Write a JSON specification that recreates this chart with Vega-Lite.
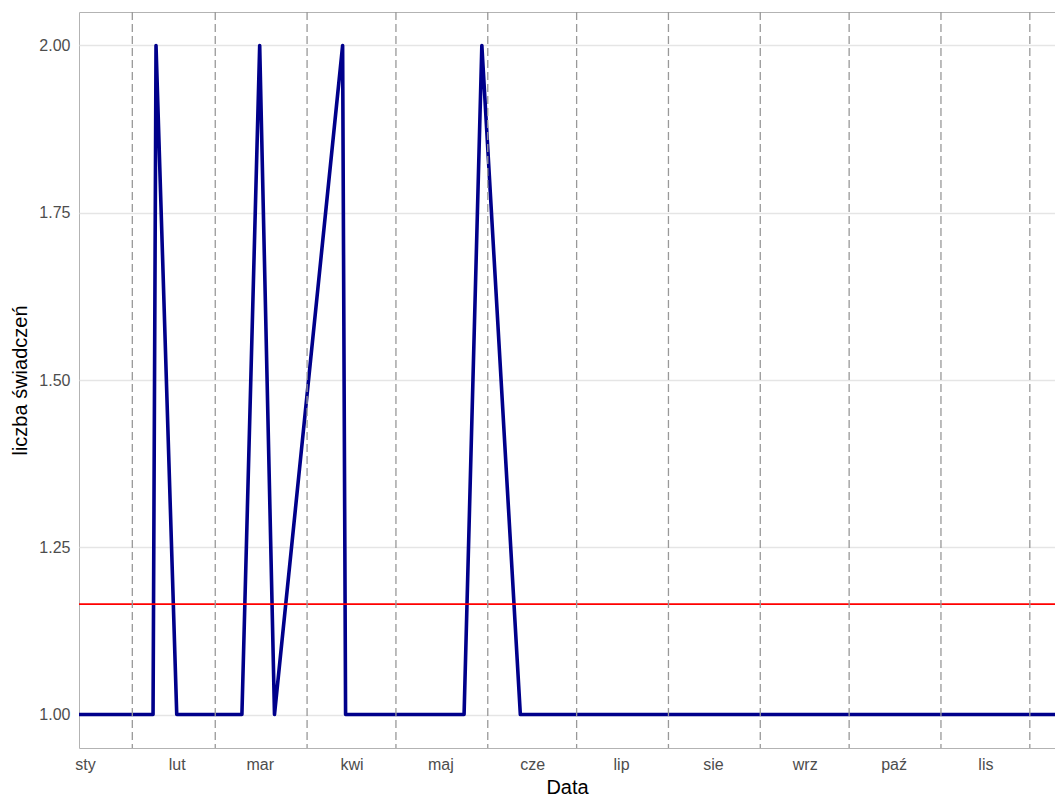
{
  "$schema": "https://vega.github.io/schema/vega-lite/v6.json",
  "width": 976,
  "height": 736,
  "autosize": {"type": "none"},
  "padding": {"left": 79, "top": 12, "right": 0, "bottom": 48},
  "background": "white",
  "config": {
    "view": {"stroke": "#B3B3B3", "strokeWidth": 1},
    "font": "Liberation Sans",
    "axis": {
      "labelFont": "Liberation Sans",
      "titleFont": "Liberation Sans",
      "labelColor": "#4D4D4D",
      "titleColor": "#000000",
      "labelFontSize": 16,
      "titleFontSize": 20,
      "titleFontWeight": "normal",
      "domain": false,
      "ticks": false
    }
  },
  "datasets": {
    "series": [
      {"data": "2023-01-14", "liczba": 1},
      {"data": "2023-02-08", "liczba": 1},
      {"data": "2023-02-09", "liczba": 2},
      {"data": "2023-02-16", "liczba": 1},
      {"data": "2023-03-10", "liczba": 1},
      {"data": "2023-03-16", "liczba": 2},
      {"data": "2023-03-21", "liczba": 1},
      {"data": "2023-04-13", "liczba": 2},
      {"data": "2023-04-14", "liczba": 1},
      {"data": "2023-05-24", "liczba": 1},
      {"data": "2023-05-30", "liczba": 2},
      {"data": "2023-06-12", "liczba": 1},
      {"data": "2023-12-10", "liczba": 1}
    ],
    "months": [
      {"data": "2023-02-01"},
      {"data": "2023-03-01"},
      {"data": "2023-04-01"},
      {"data": "2023-05-01"},
      {"data": "2023-06-01"},
      {"data": "2023-07-01"},
      {"data": "2023-08-01"},
      {"data": "2023-09-01"},
      {"data": "2023-10-01"},
      {"data": "2023-11-01"},
      {"data": "2023-12-01"}
    ],
    "mean": [{"srednia": 1.165}]
  },
  "layer": [
    {
      "data": {"name": "series"},
      "mark": {"type": "line", "color": "#00008B", "strokeWidth": 3.6, "strokeJoin": "round"},
      "encoding": {
        "x": {
          "field": "data",
          "type": "temporal",
          "scale": {
            "type": "utc",
            "domain": [
              {"year": 2023, "month": 1, "date": 14, "utc": true},
              {"year": 2023, "month": 12, "date": 9, "hours": 12, "utc": true}
            ]
          },
          "axis": {
            "title": "Data",
            "grid": false,
            "labelPadding": 8,
            "titlePadding": 5,
            "values": [
              {"year": 2023, "month": 1, "date": 16, "utc": true},
              {"year": 2023, "month": 2, "date": 16, "utc": true},
              {"year": 2023, "month": 3, "date": 16, "utc": true},
              {"year": 2023, "month": 4, "date": 16, "utc": true},
              {"year": 2023, "month": 5, "date": 16, "utc": true},
              {"year": 2023, "month": 6, "date": 16, "utc": true},
              {"year": 2023, "month": 7, "date": 16, "utc": true},
              {"year": 2023, "month": 8, "date": 16, "utc": true},
              {"year": 2023, "month": 9, "date": 16, "utc": true},
              {"year": 2023, "month": 10, "date": 16, "utc": true},
              {"year": 2023, "month": 11, "date": 16, "utc": true}
            ],
            "labelExpr": "['sty','lut','mar','kwi','maj','cze','lip','sie','wrz','paź','lis','gru'][utcmonth(datum.value)]"
          }
        },
        "y": {
          "field": "liczba",
          "type": "quantitative",
          "scale": {"domain": [0.95, 2.05], "nice": false, "zero": false},
          "axis": {
            "title": "liczba świadczeń",
            "values": [1, 1.25, 1.5, 1.75, 2],
            "format": ".2f",
            "grid": true,
            "gridColor": "#E5E5E5",
            "gridWidth": 1.4,
            "labelPadding": 9,
            "titlePadding": 8
          }
        }
      }
    },
    {
      "data": {"name": "mean"},
      "mark": {"type": "rule", "color": "#FF0000", "strokeWidth": 1.6},
      "encoding": {
        "y": {"field": "srednia", "type": "quantitative"}
      }
    },
    {
      "data": {"name": "months"},
      "mark": {"type": "rule", "color": "#999999", "strokeWidth": 1.3, "strokeDash": [8, 4]},
      "encoding": {
        "x": {"field": "data", "type": "temporal"}
      }
    }
  ]
}
